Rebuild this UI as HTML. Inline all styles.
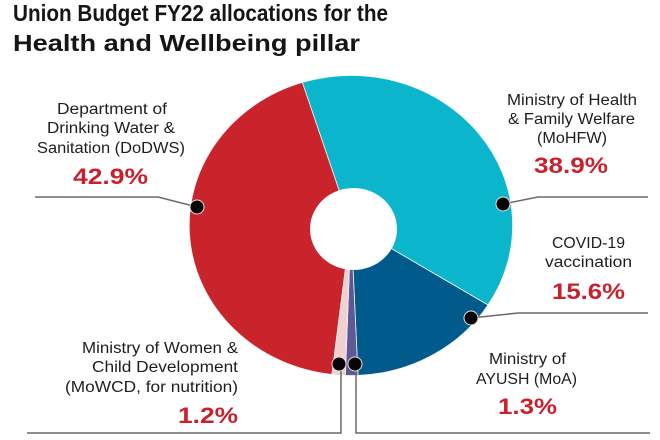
<!DOCTYPE html>
<html>
<head>
<meta charset="utf-8">
<style>
  html, body { margin: 0; padding: 0; background: #ffffff; }
  svg { display: block; }
  .t { font-family: "Liberation Sans", sans-serif; font-weight: bold; fill: #151515; }
  .l { font-family: "Liberation Sans", sans-serif; font-size: 15.5px; fill: #1e1e1e; }
  .p { font-family: "Liberation Sans", sans-serif; font-weight: bold; font-size: 22px; fill: #c8202c; }
</style>
</head>
<body>
<svg width="660" height="440" viewBox="0 0 660 440" xmlns="http://www.w3.org/2000/svg">
  <rect width="660" height="440" fill="#ffffff"/>

  <!-- Title -->
  <text class="t" x="13" y="21" font-size="23" textLength="375" lengthAdjust="spacingAndGlyphs">Union Budget FY22 allocations for the</text>
  <text class="t" x="13" y="51" font-size="23" textLength="347" lengthAdjust="spacingAndGlyphs">Health and Wellbeing pillar</text>

  <!-- Pie slices -->
  <g stroke="#f4f4f4" stroke-width="0.8" stroke-linejoin="round">
    <path d="M351,225 L331.9,374.5 A161.5,150 0 0 1 302.4,82.4 Z" fill="#c9242c"/>
    <path d="M351,225 L302.4,82.4 A161.5,150 0 0 1 488.0,305.0 Z" fill="#0bb6cd"/>
    <path d="M351,225 L488.0,305.0 A161.5,150 0 0 1 358.0,375.4 Z" fill="#005a8b"/>
    <path d="M351,225 L358.0,375.4 A161.5,150 0 0 1 345.4,375.4 Z" fill="#5e5897"/>
    <path d="M351,225 L345.4,375.4 A161.5,150 0 0 1 331.9,374.5 Z" fill="#f1d0d2"/>
  </g>
  <!-- Hole -->
  <ellipse cx="353.5" cy="229" rx="43.5" ry="41" fill="#ffffff"/>

  <!-- Leader lines -->
  <g fill="none" stroke="#6a6a6a" stroke-width="1.5">
    <path d="M35,197 H158 L197,207"/>
    <path d="M503,204 L538,197 H648"/>
    <path d="M471,318 L518,313 H648"/>
    <path d="M341,364 V433 H27"/>
    <path d="M356,364 V433 H650"/>
  </g>

  <!-- Dots -->
  <g fill="#050505" stroke="#f0dada" stroke-width="1">
    <circle cx="197" cy="207" r="7"/>
    <circle cx="503" cy="204" r="7"/>
    <circle cx="471" cy="318" r="7"/>
    <circle cx="339" cy="364" r="7"/>
    <circle cx="355" cy="364" r="7"/>
  </g>

  <!-- DoDWS label -->
  <text class="l" x="57" y="114" textLength="110" lengthAdjust="spacingAndGlyphs">Department of</text>
  <text class="l" x="47" y="133" textLength="128" lengthAdjust="spacingAndGlyphs">Drinking Water &amp;</text>
  <text class="l" x="37" y="153" textLength="148" lengthAdjust="spacingAndGlyphs">Sanitation (DoDWS)</text>
  <text class="p" x="73" y="184" textLength="75" lengthAdjust="spacingAndGlyphs">42.9%</text>

  <!-- MoHFW label -->
  <text class="l" x="507" y="105" textLength="130" lengthAdjust="spacingAndGlyphs">Ministry of Health</text>
  <text class="l" x="508" y="124" textLength="127" lengthAdjust="spacingAndGlyphs">&amp; Family Welfare</text>
  <text class="l" x="537" y="143" textLength="70" lengthAdjust="spacingAndGlyphs">(MoHFW)</text>
  <text class="p" x="534" y="173" textLength="74" lengthAdjust="spacingAndGlyphs">38.9%</text>

  <!-- COVID label -->
  <text class="l" x="552" y="248" textLength="73" lengthAdjust="spacingAndGlyphs">COVID-19</text>
  <text class="l" x="545" y="267" textLength="87" lengthAdjust="spacingAndGlyphs">vaccination</text>
  <text class="p" x="552" y="299" textLength="73" lengthAdjust="spacingAndGlyphs">15.6%</text>

  <!-- MoWCD label -->
  <text class="l" x="82" y="353" textLength="156" lengthAdjust="spacingAndGlyphs">Ministry of Women &amp;</text>
  <text class="l" x="92" y="372" textLength="146" lengthAdjust="spacingAndGlyphs">Child Development</text>
  <text class="l" x="65" y="392" textLength="173" lengthAdjust="spacingAndGlyphs">(MoWCD, for nutrition)</text>
  <text class="p" x="178" y="423" textLength="60" lengthAdjust="spacingAndGlyphs">1.2%</text>

  <!-- MoA label -->
  <text class="l" x="489" y="364" textLength="77" lengthAdjust="spacingAndGlyphs">Ministry of</text>
  <text class="l" x="476" y="384" textLength="101" lengthAdjust="spacingAndGlyphs">AYUSH (MoA)</text>
  <text class="p" x="498" y="414" textLength="59" lengthAdjust="spacingAndGlyphs">1.3%</text>
</svg>
</body>
</html>
